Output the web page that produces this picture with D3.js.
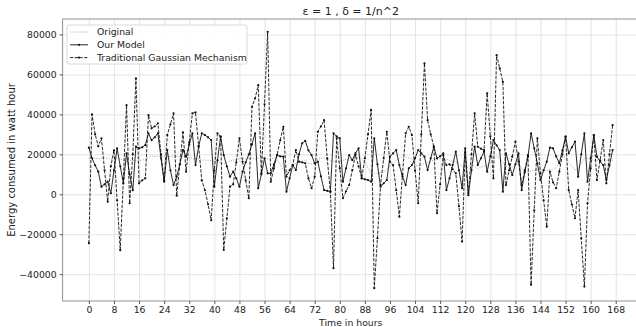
<!DOCTYPE html>
<html><head><meta charset="utf-8">
<script src="https://cdn.jsdelivr.net/npm/d3@7"></script>
<style>body{margin:0;background:#fff}svg{display:block}text{font-family:"DejaVu Sans",sans-serif}</style>
</head><body><svg id="c" width="636" height="327"></svg>
<script>
const hours = d3.range(0, 168);
const xTicks = d3.range(0, 169, 8);
const yTicks = [-40000, -20000, 0, 20000, 40000, 60000, 80000];
const seriesNames = ["Original", "Our Model", "Traditional Gaussian Mechanism"];
const titleText = "ε = 1 , δ = 1/n^2";

const original = [
18000,18200,18000,17800,18000,18300,18000,17500,17800,18000,17600,17000,
16500,16800,17000,16500,16800,17200,17500,18500,19000,18800,19200,19000,
18800,19000,18700,19200,19000,18500,18800,19000,18500,18000,17500,17800,
17000,17200,16800,17000,16500,16800,16000,15200,16000,16500,17000,17500,
17800,18000,17500,18000,18200,17800,18000,18300,18000,17600,18000,17800,
17500,15000,12000,10500,11500,14000,15500,16000,16500,17000,15500,15000,
16000,17500,18000,18200,17500,17000,16500,16000,16500,17000,17500,17000,
17500,18000,18500,18000,16000,13000,11000,10500,10500,10800,11000,12500,
14000,16000,17000,18000,18800,18500,18200,18000,14500,14000,14500,15500,
16000,16500,17000,17500,17800,18000,17500,17000,16500,16000,15000,14000,
13000,13500,15000,14000,13000,13500,14000,14500,16000,17500,19000,18000,
16000,14000,13000,13500,14500,15500,13000,11500,11000,11500,12000,12000,
12500,12000,12000,12500,12000,13500,16000,19600,18000,16000,14000,12000,
13000,15500,18000,18000,17500,17000,17000,17000,17200,17000,17000,17000];

const ourModel = [
23300,18000,14500,11300,3800,5000,6300,500,12000,23000,14000,5500,
20500,10000,2000,23800,23000,23500,24600,30500,27100,28500,30500,18000,
6300,22100,12000,4600,8800,15000,22100,18800,25000,30500,14600,24000,
30500,29600,28500,27100,3800,17000,28800,19600,14000,8800,11300,8000,
3800,11300,16000,20000,25000,30500,3000,10000,18000,10500,10500,15000,
19600,19000,18800,1300,8000,14600,12100,20000,25500,26700,22000,19600,
15500,16300,9000,2100,1700,1300,30500,29000,28000,6300,13000,19600,
17100,20500,23000,8000,7500,7100,6300,28000,15000,3800,5500,7100,
18800,20500,22100,14600,9000,4600,13000,14600,18000,22100,20500,18800,
12100,18000,23800,18000,19000,20500,2100,8000,14600,21300,12000,3000,
23000,-500,12000,23800,14600,18000,21300,11300,19000,27100,24500,22100,
1300,20500,15000,9600,15000,20500,2100,11000,18800,30500,23000,15500,
7100,12000,16300,23300,23000,19000,15500,22000,28800,20500,23500,26300,
8800,20000,30500,6300,18000,29600,18800,16500,14600,7100,14500,22100];

const gaussian = [
-24500,40000,30000,24000,28000,12000,-3700,14000,22000,-3000,-28000,8000,
44600,-4500,20000,58000,5500,7000,8000,39600,33000,34000,35500,20000,
7000,29600,35000,40500,-700,15000,31000,11300,26000,40500,41000,24000,
7000,2000,-5000,-13000,12000,30500,28800,-27900,-12000,3800,5000,16000,
28000,16300,7000,-2000,43800,48000,54600,10500,45000,81300,6300,13000,
19600,27000,33800,8800,12000,14600,22100,16300,16000,15500,8000,3000,
8800,31300,34000,37100,18000,1300,-37000,28000,13000,-2000,1500,4600,
12100,19600,14000,8000,18000,30000,42200,-47000,-22000,4600,18000,31300,
16300,14600,2000,-11200,10000,30500,33800,29600,12000,-4500,30000,65500,
37100,30000,23800,-9500,5000,19600,14600,15000,12500,10500,-6000,-23700,
21000,500,20000,40500,23800,22800,22100,50500,29000,8000,69600,63000,
56300,4600,12000,18800,26300,16300,4600,12000,19600,-45300,-8000,28000,
10500,-3000,-16200,11300,6000,3000,11300,20000,28800,2100,-5000,-12000,
2100,-22000,-46200,-4500,13000,29600,7100,17000,27100,5500,20000,34600];

const svg = d3.select("#c");
const L = 62.7, R = 638.8, T = 19, B = 301;
const xMin = d3.min(hours), xMax = d3.max(hours), xPad = (xMax - xMin) * 0.05;
const x = d3.scaleLinear().domain([xMin - xPad, xMax + xPad]).range([L, R]);
const allY = original.concat(ourModel, gaussian);
const yMin = d3.min(allY), yMax = d3.max(allY), yPad = (yMax - yMin) * 0.05;
const y = d3.scaleLinear().domain([yMin - yPad, yMax + yPad]).range([B, T]);

const fs = 9.3;
// grid
svg.append("g").attr("transform", `translate(0,${B})`)
  .call(d3.axisBottom(x).tickValues(xTicks).tickSize(-(B - T)).tickFormat(""))
  .call(g => g.select(".domain").remove())
  .call(g => g.selectAll("line").attr("stroke", "#dddddd").attr("stroke-width", 0.8));
svg.append("g").attr("transform", `translate(${L},0)`)
  .call(d3.axisLeft(y).tickValues(yTicks).tickSize(-(R - L)).tickFormat(""))
  .call(g => g.select(".domain").remove())
  .call(g => g.selectAll("line").attr("stroke", "#dddddd").attr("stroke-width", 0.8));

// frame
svg.append("rect").attr("x", L).attr("y", T).attr("width", R - L).attr("height", B - T)
  .attr("fill", "none").attr("stroke", "#777").attr("stroke-width", 0.8);

// axes
const xa = svg.append("g").attr("transform", `translate(0,${B})`)
  .call(d3.axisBottom(x).tickValues(xTicks).tickSize(3).tickPadding(2).tickFormat(d3.format("d")));
xa.select(".domain").remove();
xa.selectAll("line").attr("stroke", "#555");
xa.selectAll("text").attr("font-size", fs).attr("fill", "#222").attr("font-family", "DejaVu Sans");
const ya = svg.append("g").attr("transform", `translate(${L},0)`)
  .call(d3.axisLeft(y).tickValues(yTicks).tickSize(3).tickPadding(3).tickFormat(d => d3.format("d")(d).replace("-", "−")));
ya.select(".domain").remove();
ya.selectAll("line").attr("stroke", "#555");
ya.selectAll("text").attr("font-size", fs).attr("fill", "#222").attr("font-family", "DejaVu Sans");

svg.append("clipPath").attr("id", "clp").append("rect")
  .attr("x", L).attr("y", T).attr("width", R - L).attr("height", B - T);

const line = d3.line().x((d, i) => x(hours[i])).y(d => y(d));
const plot = svg.append("g").attr("clip-path", "url(#clp)");

plot.append("path").datum(original).attr("d", line).attr("fill", "none")
  .attr("stroke", "#999").attr("stroke-width", 0.9).attr("stroke-dasharray", "1,1.5");
plot.append("path").datum(ourModel).attr("d", line).attr("fill", "none")
  .attr("stroke", "#111").attr("stroke-width", 0.9);
plot.selectAll(".m1").data(ourModel).enter().append("circle")
  .attr("cx", (d, i) => x(hours[i])).attr("cy", d => y(d)).attr("r", 1.1).attr("fill", "#111");
plot.append("path").datum(gaussian).attr("d", line).attr("fill", "none")
  .attr("stroke", "#111").attr("stroke-width", 0.9).attr("stroke-dasharray", "3.3,1.4");
plot.selectAll(".m2").data(gaussian).enter().append("circle")
  .attr("cx", (d, i) => x(hours[i])).attr("cy", d => y(d)).attr("r", 1.1).attr("fill", "#111");

// legend
const lg = svg.append("g");
lg.append("rect").attr("x", 67).attr("y", 25).attr("width", 180).attr("height", 39).attr("rx", 2)
  .attr("fill", "#fff").attr("fill-opacity", 0.85).attr("stroke", "#d0d0d0").attr("stroke-width", 0.8);
const styles = [
  {stroke: "#999", dash: "1,1.5", marker: false},
  {stroke: "#111", dash: null, marker: true},
  {stroke: "#111", dash: "3.3,1.4", marker: true}
];
seriesNames.forEach((n, i) => {
  const yy = 32 + i * 12.8;
  lg.append("line").attr("x1", 70).attr("x2", 88).attr("y1", yy).attr("y2", yy)
    .attr("stroke", styles[i].stroke).attr("stroke-width", 0.9)
    .attr("stroke-dasharray", styles[i].dash);
  if (styles[i].marker) lg.append("circle").attr("cx", 79).attr("cy", yy).attr("r", 1.1).attr("fill", "#111");
  lg.append("text").attr("x", 97).attr("y", yy).attr("dy", "0.35em").attr("font-size", fs).attr("fill", "#222").text(n);
});

// labels
svg.append("text").attr("x", (L + R) / 2).attr("y", 15).attr("text-anchor", "middle")
  .attr("font-size", 11).attr("fill", "#222").text(titleText);
svg.append("text").attr("x", (L + R) / 2).attr("y", 325.5).attr("text-anchor", "middle")
  .attr("font-size", fs).attr("fill", "#222").text("Time in hours");
svg.append("text").attr("transform", `translate(15,${(T + B) / 2}) rotate(-90)`).attr("text-anchor", "middle")
  .attr("font-size", 10).attr("fill", "#222").text("Energy consumed in watt hour");
</script></body></html>
